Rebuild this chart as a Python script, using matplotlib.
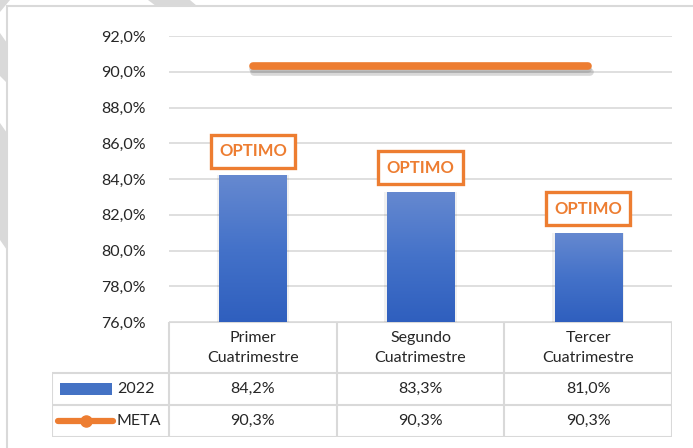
import matplotlib.pyplot as plt
import matplotlib.patheffects as pe
from matplotlib.patches import Rectangle, Polygon
from matplotlib.lines import Line2D
from matplotlib.colors import LinearSegmentedColormap
import numpy as np

plt.rcParams['font.family'] = ['Lato', 'DejaVu Sans']

categorias = ['Primer\nCuatrimestre', 'Segundo\nCuatrimestre', 'Tercer\nCuatrimestre']
valores_2022 = [84.2, 83.3, 81.0]
meta = [90.3, 90.3, 90.3]
etiqueta = 'OPTIMO'
yticks = [76, 78, 80, 82, 84, 86, 88, 90, 92]

W, H = 693, 448
fig = plt.figure(figsize=(W / 100, H / 100), dpi=100)
fig.patch.set_facecolor('white')

# marca de agua gris (franjas diagonales detras del marco)
for pts in [[(0, 448), (10, 448), (0, 436)],
            [(0, 415), (7, 405), (7, 365), (0, 372)],
            [(0, 325), (7, 315), (7, 198), (0, 208)],
            [(148, 448), (190, 448), (197, 442), (156, 442)]]:
    fig.patches.append(Polygon([(x / W, y / H) for x, y in pts], closed=True, zorder=-2,
                               transform=fig.transFigure, facecolor='#d9d9d9', edgecolor='none'))
# marco del grafico
fig.patches.append(Rectangle((7 / W, -0.05), 1.0, (442 / H) + 0.05, transform=fig.transFigure,
                             facecolor='white', edgecolor='#d9d9d9', lw=1.5, zorder=-1))

fs = 11.5

# ejes principales
x0, x1 = 169, 672
ytop, ybot = 36, 322
ax = fig.add_axes([x0 / W, (H - ybot) / H, (x1 - x0) / W, (ybot - ytop) / H])
ax.set_facecolor('none')
ax.set_xlim(-0.5, 2.5)
ax.set_ylim(76, 92)
ax.set_yticks(yticks)
ax.set_yticklabels([f'{t:.1f}%'.replace('.', ',') for t in yticks], fontsize=fs, color='#262626')
ax.tick_params(axis='y', length=0, pad=17)
ax.set_xticks([])
for s in ax.spines.values():
    s.set_visible(False)
ax.grid(axis='y', color='#d9d9d9', lw=1.2)
ax.set_axisbelow(True)

x = np.arange(len(categorias))
bars = ax.bar(x, valores_2022, width=0.4, bottom=0, color='none', zorder=2)
grad = np.linspace(0, 1, 256).reshape(-1, 1)
cmap = LinearSegmentedColormap.from_list('azul', ['#2f5fbe', '#4472c9', '#6689d0'])
for b in bars:
    bx, bw, bh = b.get_x(), b.get_width(), b.get_height()
    # sombra suave
    ax.bar(bx + bw / 2, bh, width=bw * 1.08, color='#000000', alpha=0.06, zorder=1.5)
    im = ax.imshow(grad, extent=[bx, bx + bw, 76, bh], origin='lower', aspect='auto',
                   cmap=cmap, zorder=2)
    im.set_clip_path(b)
ax.set_xlim(-0.5, 2.5)
ax.set_ylim(76, 92)

ax.plot(x, meta, color='#ED7D31', lw=5.5, solid_capstyle='round', zorder=3,
        path_effects=[pe.SimpleLineShadow(offset=(1, -4), shadow_color='gray', alpha=0.3),
                      pe.SimpleLineShadow(offset=(0, -2), shadow_color='gray', alpha=0.3),
                      pe.Normal()])

for xi, v in zip(x, valores_2022):
    ax.annotate(etiqueta, (xi, v), xytext=(0, 24), textcoords='offset pixels',
                ha='center', va='center', fontsize=12, fontweight='bold', color='#ED7D31',
                bbox=dict(boxstyle='square,pad=0.5', fc='white', ec='#ED7D31', lw=2.4), zorder=4)

# tabla de datos
tx0 = 52
unit = (x1 - x0) / 3
tab = fig.add_axes([tx0 / W, (H - 437) / H, (x1 - tx0) / W, (437 - ybot) / H])
xl = -0.5 - (x0 - tx0) / unit
tab.set_xlim(xl, 2.5)
tab.set_ylim(115, 0)
tab.axis('off')
lc = '#d9d9d9'
tab.hlines(0, -0.5, 2.5, color=lc, lw=1.5)
for yy in [51, 83, 115]:
    tab.hlines(yy, xl, 2.5, color=lc, lw=1.5)
for xx in [-0.5, 0.5, 1.5, 2.5]:
    tab.vlines(xx, 0, 115, color=lc, lw=1.5)
tab.vlines(xl, 51, 115, color=lc, lw=1.5)

for xi, cat, v, m in zip(x, categorias, valores_2022, meta):
    tab.text(xi, 26, cat, ha='center', va='center', fontsize=fs, color='#262626', linespacing=1.55)
    tab.text(xi, 67, f'{v:.1f}%'.replace('.', ','), ha='center', va='center', fontsize=fs, color='#262626')
    tab.text(xi, 99, f'{m:.1f}%'.replace('.', ','), ha='center', va='center', fontsize=fs, color='#262626')

px = lambda p: xl + (p - tx0) / unit
tab.add_patch(Rectangle((px(60), 61), px(112) - px(60), 12, facecolor='#4472C4', edgecolor='none'))
tab.text(px(117), 67, '2022', ha='left', va='center', fontsize=fs, color='#262626')
tab.add_line(Line2D([px(58), px(113)], [99, 99], color='#ED7D31', lw=4.5, solid_capstyle='round'))
tab.plot([px(86)], [99], 'o', color='#ED7D31', ms=8)
tab.text(px(116), 99, 'META', ha='left', va='center', fontsize=fs, color='#262626')

fig.savefig('out.png', dpi=100)
